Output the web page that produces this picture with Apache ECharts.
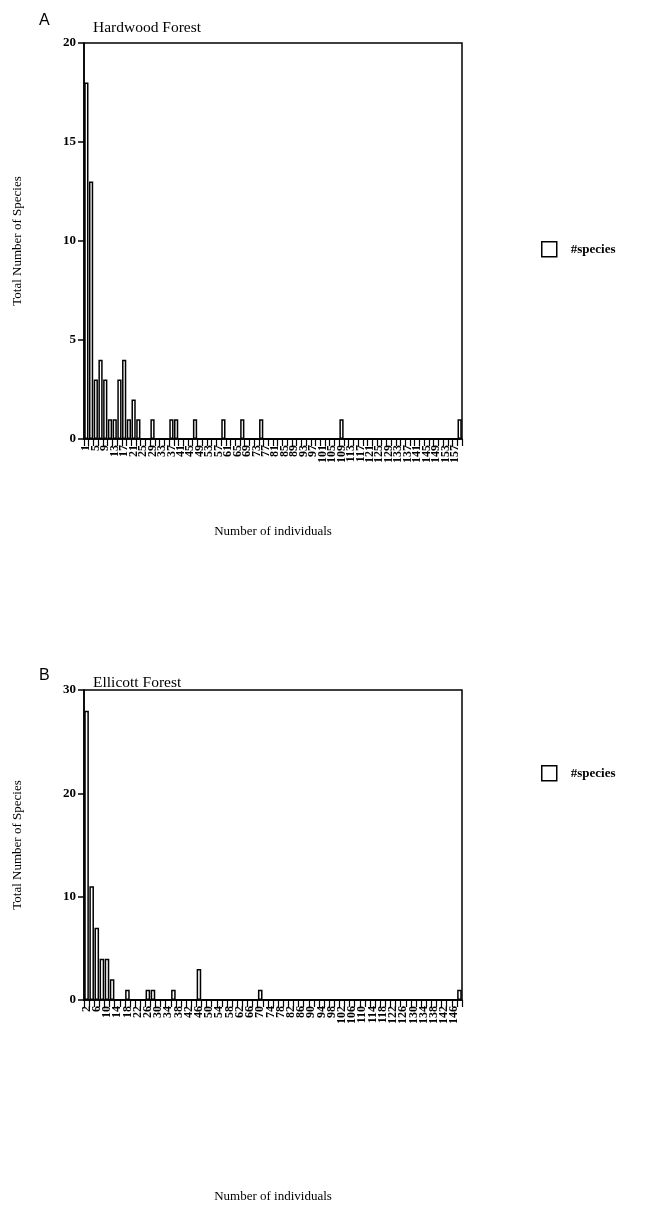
<!DOCTYPE html>
<html>
<head>
<meta charset="utf-8">
<script src="https://cdn.jsdelivr.net/npm/echarts@6/dist/echarts.min.js"></script>
<style>
html,body{margin:0;padding:0;background:#fff;}
#chart{width:646px;height:1206px;}
</style>
</head>
<body>
<div id="chart"></div>
<script>
// Panel A: Hardwood Forest (bins labelled by number of individuals)
var hwCategories = [1,3,5,7,9,11,13,15,17,19,21,23,25,27,29,31,33,35,37,39,41,43,45,47,49,51,53,55,57,59,61,63,65,67,69,71,73,75,77,79,81,83,85,87,89,91,93,95,97,99,101,103,105,107,109,111,113,115,117,119,121,123,125,127,129,131,133,135,137,139,141,143,145,147,149,151,153,155,157,159];
var hwValues = [18,13,3,4,3,1,1,3,4,1,2,1,0,0,1,0,0,0,1,1,0,0,0,1,0,0,0,0,0,1,0,0,0,1,0,0,0,1,0,0,0,0,0,0,0,0,0,0,0,0,0,0,0,0,1,0,0,0,0,0,0,0,0,0,0,0,0,0,0,0,0,0,0,0,0,0,0,0,0,1];
var hwYTicks = [0,5,10,15,20];

// Panel B: Ellicott Forest
var elCategories = [2,4,6,8,10,12,14,16,18,20,22,24,26,28,30,32,34,36,38,40,42,44,46,48,50,52,54,56,58,60,62,64,66,68,70,72,74,76,78,80,82,84,86,88,90,92,94,96,98,100,102,104,106,108,110,112,114,116,118,120,122,124,126,128,130,132,134,136,138,140,142,144,146,148];
var elValues = [28,11,7,4,4,2,0,0,1,0,0,0,1,1,0,0,0,1,0,0,0,0,3,0,0,0,0,0,0,0,0,0,0,0,1,0,0,0,0,0,0,0,0,0,0,0,0,0,0,0,0,0,0,0,0,0,0,0,0,0,0,0,0,0,0,0,0,0,0,0,0,0,0,1];
var elYTicks = [0,10,20,30];

var seriesName = '#species';
var serif = '"Liberation Serif","DejaVu Serif",serif';

function xAxisFor(cats, gi, gap) {
  return {
    type: 'category', gridIndex: gi, data: cats,
    name: 'Number of individuals', nameLocation: 'middle', nameGap: gap,
    nameTextStyle: {fontFamily: serif, fontSize: 13, color: '#000'},
    axisLine: {show: true, lineStyle: {color: '#000', width: 1.5}},
    axisTick: {show: true, interval: 0, length: 7, lineStyle: {color: '#000', width: 1.2}},
    axisLabel: {
      interval: 0, showMinLabel: true, showMaxLabel: true, hideOverlap: false,
      formatter: function (v, i) { return i % 2 === 0 ? String(v) : ''; },
      rotate: 90, fontFamily: serif, fontSize: 12, lineHeight: 8, fontWeight: 'bold', color: '#000', margin: 6
    },
    splitLine: {show: false}
  };
}
function yAxisFor(ticks, gi) {
  return {
    type: 'value', gridIndex: gi, min: ticks[0], max: ticks[ticks.length - 1],
    interval: ticks[1] - ticks[0],
    name: 'Total Number of Species', nameLocation: 'middle', nameGap: 60,
    nameTextStyle: {fontFamily: serif, fontSize: 13, color: '#000'},
    axisLine: {show: true, lineStyle: {color: '#000', width: 1.5}},
    axisTick: {show: true, length: 6, lineStyle: {color: '#000', width: 1.5}},
    axisLabel: {fontFamily: serif, fontSize: 13, fontWeight: 'bold', color: '#000', margin: 8},
    splitLine: {show: false}
  };
}
function barSeries(vals, gi) {
  return {
    name: seriesName, type: 'bar', xAxisIndex: gi, yAxisIndex: gi, data: vals,
    barCategoryGap: '10%',
    itemStyle: {color: '#fff', borderColor: '#000', borderWidth: 1.5},
    animation: false
  };
}
function legendFor(top) {
  return {
    left: 536, top: top, orient: 'vertical', data: [seriesName],
    icon: 'rect', itemWidth: 15, itemHeight: 15, itemGap: 10,
    textStyle: {fontFamily: serif, fontSize: 13, fontWeight: 'bold', color: '#000', padding: [0, 0, 0, 9]},
    itemStyle: {color: '#fff', borderColor: '#000', borderWidth: 1.5}
  };
}

var chart = echarts.init(document.getElementById('chart'), null, {renderer: 'canvas'});
chart.setOption({
  backgroundColor: '#fff',
  animation: false,
  title: [
    {text: 'A', left: 34, top: 8, textStyle: {fontFamily: '"Liberation Sans",Arial,sans-serif', fontSize: 16, fontWeight: 'normal', color: '#000'}},
    {text: 'Hardwood Forest', left: 88, top: 15, textStyle: {fontFamily: serif, fontSize: 15.5, fontWeight: 'normal', color: '#000'}},
    {text: 'B', left: 34, top: 663, textStyle: {fontFamily: '"Liberation Sans",Arial,sans-serif', fontSize: 16, fontWeight: 'normal', color: '#000'}},
    {text: 'Ellicott Forest', left: 88, top: 670, textStyle: {fontFamily: serif, fontSize: 15.5, fontWeight: 'normal', color: '#000'}}
  ],
  legend: [legendFor(236), legendFor(760)],
  grid: [
    {left: 84, right: 184, top: 43, height: 396, show: true, borderColor: '#000', borderWidth: 1.5, backgroundColor: '#fff'},
    {left: 84, right: 184, top: 690, height: 310, show: true, borderColor: '#000', borderWidth: 1.5, backgroundColor: '#fff'}
  ],
  xAxis: [xAxisFor(hwCategories, 0, 86), xAxisFor(elCategories, 1, 190)],
  yAxis: [yAxisFor(hwYTicks, 0), yAxisFor(elYTicks, 1)],
  series: [barSeries(hwValues, 0), barSeries(elValues, 1)]
});
</script>
</body>
</html>
